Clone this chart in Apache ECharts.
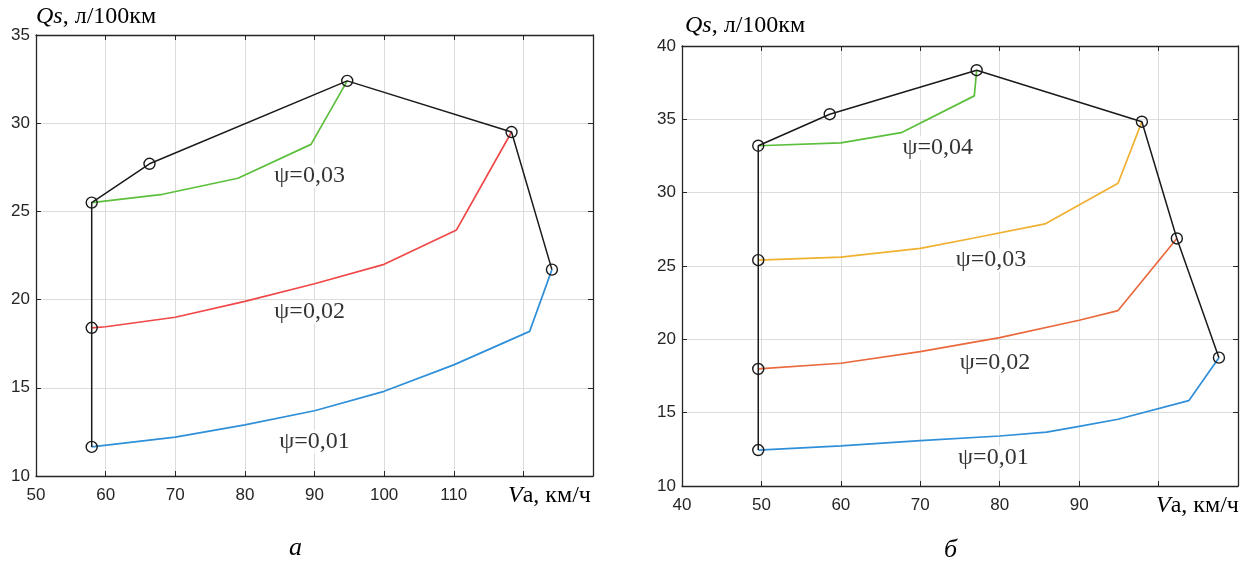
<!DOCTYPE html>
<html>
<head>
<meta charset="utf-8">
<script src="https://cdn.jsdelivr.net/npm/echarts@6/dist/echarts.min.js"></script>
<style>
html,body{margin:0;padding:0;background:#fff;}
#c{width:1246px;height:565px;}
</style>
</head>
<body>
<div id="c"></div>
<script>
// ---- Chart "а" ----
const aEnvV = [58, 58, 58, 66.3, 94.7, 118.3, 124.1];
const aEnvQ = [11.65, 18.4, 25.5, 27.7, 32.4, 29.5, 21.7];
const aPsi1V = [58, 70, 80, 90, 100, 110, 120.9, 124.1];
const aPsi1Q = [11.65, 12.2, 12.9, 13.7, 14.8, 16.3, 18.2, 21.7];
const aPsi2V = [58, 60, 70, 80, 90, 100, 110.4, 118.3];
const aPsi2Q = [18.4, 18.46, 19.0, 19.9, 20.9, 22.0, 23.95, 29.5];
const aPsi3V = [58, 68.2, 79.0, 89.5, 94.7];
const aPsi3Q = [25.5, 25.97, 26.88, 28.8, 32.4];
const aLabels = ['ψ=0,01', 'ψ=0,02', 'ψ=0,03'];
const aLabelV = [90.0, 89.3, 89.3];
const aLabelQ = [11.94, 19.3, 27.0];

// ---- Chart "б" ----
const bEnvV = [49.6, 49.6, 49.6, 49.6, 58.6, 77.1, 97.9, 102.3, 107.6];
const bEnvQ = [12.45, 17.98, 25.4, 33.2, 35.35, 38.35, 34.84, 26.88, 18.75];
const bPsi1V = [49.6, 60, 70, 80, 85.9, 90, 94.9, 103.8, 107.6];
const bPsi1Q = [12.45, 12.73, 13.09, 13.41, 13.67, 14.07, 14.55, 15.82, 18.75];
const bPsi2V = [49.6, 60, 70, 80, 90, 94.9, 102.3];
const bPsi2Q = [17.98, 18.37, 19.16, 20.12, 21.3, 21.96, 26.88];
const bPsi3V = [49.6, 60, 70, 76.6, 85.7, 94.9, 97.9];
const bPsi3Q = [25.4, 25.6, 26.2, 26.89, 27.87, 30.64, 34.84];
const bPsi4V = [49.6, 60, 67.6, 76.8, 77.1];
const bPsi4Q = [33.2, 33.4, 34.09, 36.6, 38.35];
const bLabels = ['ψ=0,01', 'ψ=0,02', 'ψ=0,03', 'ψ=0,04'];
const bLabelV = [79.2, 79.4, 78.9, 72.2];
const bLabelQ = [11.92, 18.39, 25.4, 33.05];

// Axis ranges / ticks
const aXRange = [50, 130], aXLast = 110, aYRange = [10, 35];
const bXRange = [40, 110], bXLast = 90, bYRange = [10, 40];
const yTitle = 'Qs';
const yUnit = ', л/100км';
const xTitle = 'V';
const xUnit = 'а, км/ч';
const captions = ['а', 'б'];

const zip = (xs, ys) => xs.map((x, i) => [x, ys[i]]);

const C = {
  blue: '#2f8fd8', red: '#f04848', green: '#5cbf3c',
  orange: '#f0b030', redB: '#ea6a3e', black: '#1a1a1a'
};

const tickFont = {fontFamily: 'Liberation Sans', fontSize: 17, color: '#262626'};
const serif = 'Liberation Serif';
const SF = 24;

function axesFor(gi, xr, xLast, yr) {
  const axisLine = {show: true, lineStyle: {color: '#262626', width: 1.3}};
  const tick = {show: true, inside: true, length: 5, lineStyle: {color: '#262626', width: 1}};
  return {
    x: [
      {type: 'value', gridIndex: gi, min: xr[0], max: xr[1], interval: 10, position: 'bottom',
        axisLine, axisTick: tick,
        axisLabel: Object.assign({margin: 11, formatter: v => v <= xLast ? String(v) : ''}, tickFont),
        splitLine: {show: true, lineStyle: {color: '#dcdcdc', width: 1}}},
      {type: 'value', gridIndex: gi, min: xr[0], max: xr[1], interval: 10, position: 'top',
        axisLine, axisTick: tick, axisLabel: {show: false}, splitLine: {show: false}}
    ],
    y: [
      {type: 'value', gridIndex: gi, min: yr[0], max: yr[1], interval: 5, position: 'left',
        axisLine, axisTick: tick,
        axisLabel: Object.assign({margin: 6}, tickFont),
        splitLine: {show: true, lineStyle: {color: '#dcdcdc', width: 1}}},
      {type: 'value', gridIndex: gi, min: yr[0], max: yr[1], interval: 5, position: 'right',
        axisLine, axisTick: tick, axisLabel: {show: false}, splitLine: {show: false}}
    ]
  };
}

const A = axesFor(0, aXRange, aXLast, aYRange);
const B = axesFor(1, bXRange, bXLast, bYRange);

function line(xi, yi, xs, ys, color, z) {
  return {type: 'line', xAxisIndex: xi, yAxisIndex: yi, data: zip(xs, ys),
    showSymbol: false, symbol: 'none', lineStyle: {color, width: 1.7}, z: z || 2,
    animation: false, silent: true};
}
function envelope(xi, yi, xs, ys) {
  return {type: 'line', xAxisIndex: xi, yAxisIndex: yi, data: zip(xs, ys),
    symbol: 'circle', symbolSize: 11, showSymbol: true,
    itemStyle: {color: 'rgba(0,0,0,0)', borderColor: C.black, borderWidth: 1.4},
    lineStyle: {color: C.black, width: 1.5}, z: 3, animation: false, silent: true};
}
function labels(xi, yi, xs, ys, texts) {
  return {type: 'scatter', xAxisIndex: xi, yAxisIndex: yi, symbolSize: 0,
    data: xs.map((x, i) => ({value: [x, ys[i]], name: texts[i]})),
    label: {show: true, position: 'inside', formatter: p => p.name,
      fontFamily: serif, fontSize: SF, color: '#000', backgroundColor: '#fff', padding: [0, 1]},
    z: 4, animation: false, silent: true};
}

const richT = {i: {fontFamily: serif, fontStyle: 'italic', fontSize: SF, fill: '#000'},
               n: {fontFamily: serif, fontSize: SF, fill: '#000'}};

const option = {
  animation: false,
  backgroundColor: '#fff',
  grid: [
    {left: 36, top: 35, width: 557, height: 441},
    {left: 682, top: 46, width: 556, height: 440}
  ],
  xAxis: [A.x[0], A.x[1], B.x[0], B.x[1]],
  yAxis: [A.y[0], A.y[1], B.y[0], B.y[1]],
  series: [
    line(0, 0, aPsi1V, aPsi1Q, C.blue),
    line(0, 0, aPsi2V, aPsi2Q, C.red),
    line(0, 0, aPsi3V, aPsi3Q, C.green),
    envelope(0, 0, aEnvV, aEnvQ),
    labels(0, 0, aLabelV, aLabelQ, aLabels),
    line(2, 2, bPsi1V, bPsi1Q, C.blue),
    line(2, 2, bPsi2V, bPsi2Q, C.redB),
    line(2, 2, bPsi3V, bPsi3Q, C.orange),
    line(2, 2, bPsi4V, bPsi4Q, C.green),
    envelope(2, 2, bEnvV, bEnvQ),
    labels(2, 2, bLabelV, bLabelQ, bLabels)
  ],
  graphic: [
    {type: 'text', left: 36, top: 5, style: {rich: richT, text: '{i|' + yTitle + '}{n|' + yUnit + '}'}},
    {type: 'text', left: 685, top: 14, style: {rich: richT, text: '{i|' + yTitle + '}{n|' + yUnit + '}'}},
    {type: 'text', left: 508, top: 484, style: {rich: richT, text: '{i|' + xTitle + '}{n|' + xUnit + '}'}},
    {type: 'text', left: 1156, top: 494, style: {rich: richT, text: '{i|' + xTitle + '}{n|' + xUnit + '}'}},
    {type: 'text', left: 289, top: 535, style: {text: captions[0], fontFamily: serif, fontStyle: 'italic', fontSize: 26, fill: '#000'}},
    {type: 'text', left: 944, top: 537, style: {text: captions[1], fontFamily: serif, fontStyle: 'italic', fontSize: 26, fill: '#000'}}
  ]
};

const chart = echarts.init(document.getElementById('c'), null, {renderer: 'canvas'});
chart.setOption(option);
</script>
</body>
</html>
